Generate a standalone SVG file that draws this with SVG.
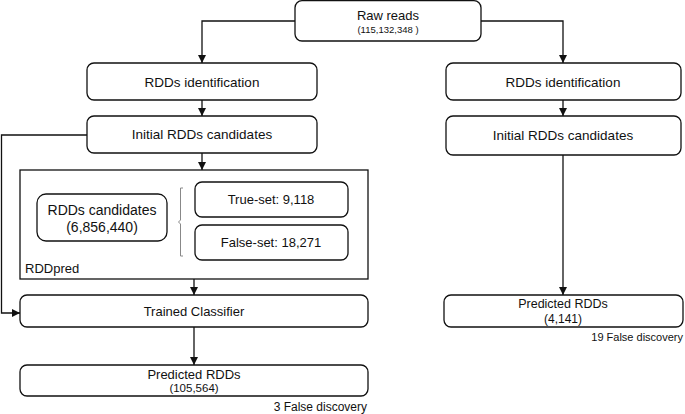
<svg xmlns="http://www.w3.org/2000/svg" width="685" height="414" viewBox="0 0 685 414">
<style>
.box{fill:#fff;stroke:#111;stroke-width:1.3}
.c{fill:none;stroke:#111;stroke-width:1.3}
text{font-family:"Liberation Sans",Arial,sans-serif;fill:#111;text-anchor:middle}
.t13{font-size:13px}
.t135{font-size:13.5px}
.s95{font-size:9.5px}
.s11{font-size:11px}
.r{text-anchor:end}
.l{text-anchor:start}
</style>
<defs>
<marker id="ah" viewBox="0 0 10 10" refX="10" refY="5" markerWidth="8" markerHeight="8" markerUnits="userSpaceOnUse" orient="auto">
<path d="M0,0 L10,5 L0,10 z" fill="#111"/>
</marker>
</defs>
<rect width="685" height="414" fill="#fff"/>
<g id="connectors">
<path class="c" d="M295,21 H202 V63" marker-end="url(#ah)"/>
<path class="c" d="M481,21 H563 V63" marker-end="url(#ah)"/>
<path class="c" d="M202,100 V116" marker-end="url(#ah)"/>
<path class="c" d="M563,100 V116" marker-end="url(#ah)"/>
<path class="c" d="M87,135 H1.5 V313 H20" marker-end="url(#ah)"/>
<path class="c" d="M202,153 V170" marker-end="url(#ah)"/>
<path class="c" d="M563,155 V295" marker-end="url(#ah)"/>
<path class="c" d="M194,279 V295" marker-end="url(#ah)"/>
<path class="c" d="M194,327 V365" marker-end="url(#ah)"/>
</g>
<g id="raw">
<rect class="box" x="295" y="0.7" width="186" height="40.3" rx="7"/>
<text class="t13" x="388" y="20">Raw reads</text>
<text class="s95" x="388" y="33">(115,132,348 )</text>
</g>
<g id="id-left">
<rect class="box" x="87" y="63" width="230" height="37" rx="7"/>
<text class="t135" x="202" y="87">RDDs identification</text>
</g>
<g id="id-right">
<rect class="box" x="446" y="63" width="235" height="37" rx="7"/>
<text class="t135" x="563" y="87">RDDs identification</text>
</g>
<g id="init-left">
<rect class="box" x="87" y="116" width="230" height="37" rx="7"/>
<text class="t135" x="202" y="139">Initial RDDs candidates</text>
</g>
<g id="init-right">
<rect class="box" x="446" y="116" width="235" height="39" rx="7"/>
<text class="t135" x="563" y="140">Initial RDDs candidates</text>
</g>
<g id="rddpred">
<rect x="20" y="170" width="348" height="109" fill="#fff" stroke="#111" stroke-width="1.3"/>
<text class="t13 l" x="25" y="273">RDDpred</text>
</g>
<g id="candidates">
<rect class="box" x="37" y="194" width="130" height="47" rx="9"/>
<text x="102" y="215" style="font-size:14px">RDDs candidates</text>
<text x="102" y="232" style="font-size:14px">(6,856,440)</text>
</g>
<g id="bracket">
<path d="M183,188 H180.5 V220 L178.5,222 L180.5,224 V256 H183" fill="none" stroke="#888" stroke-width="1"/>
</g>
<g id="trueset">
<rect class="box" x="195" y="182" width="153" height="35" rx="7"/>
<text class="t13" x="271" y="204">True-set: 9,118</text>
</g>
<g id="falseset">
<rect class="box" x="195" y="225" width="153" height="35" rx="7"/>
<text class="t13" x="271" y="247">False-set: 18,271</text>
</g>
<g id="classifier">
<rect class="box" x="20" y="295" width="348" height="32" rx="7"/>
<text class="t13" x="194" y="316">Trained Classifier</text>
</g>
<g id="pred-left">
<rect class="box" x="20" y="365" width="348" height="31" rx="7"/>
<text class="t13" x="194" y="379">Predicted RDDs</text>
<text x="194" y="392" style="font-size:11.5px">(105,564)</text>
<text class="r" x="367" y="411" style="font-size:12px">3 False discovery</text>
</g>
<g id="pred-right">
<rect class="box" x="444" y="295" width="239" height="32" rx="7"/>
<text x="563" y="308" style="font-size:12.5px">Predicted RDDs</text>
<text x="563" y="323" style="font-size:12px">(4,141)</text>
<text class="s11 r" x="683" y="341">19 False discovery</text>
</g>
</svg>
